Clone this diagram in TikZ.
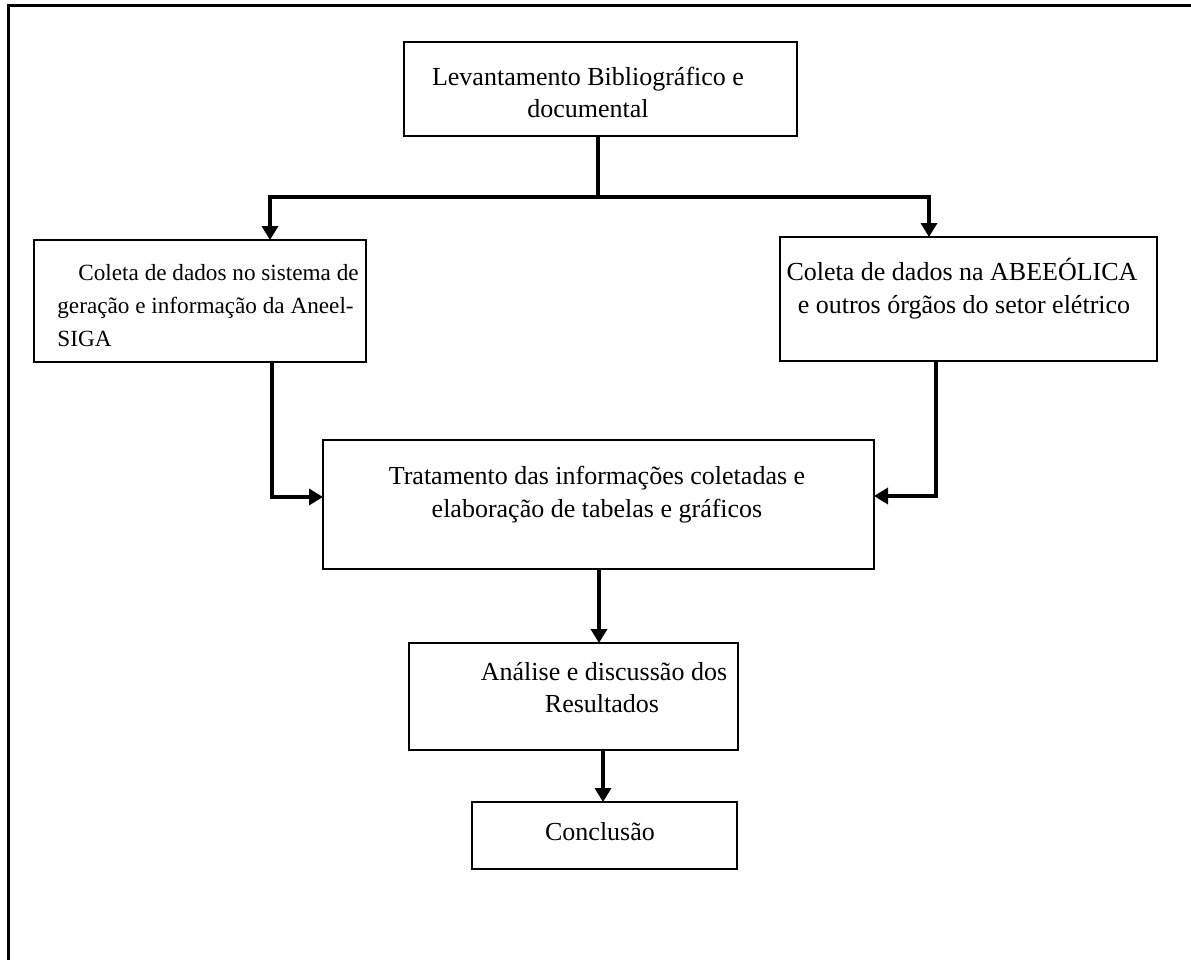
\documentclass[tikz,border=0pt]{standalone}
\usepackage{fontspec}
\setmainfont{Liberation Serif}
\usetikzlibrary{arrows.meta}
\begin{document}
\begin{tikzpicture}[x=0.5pt,y=-0.5pt,
  box/.style={draw=black,line width=1pt,inner sep=0pt,outer sep=0pt,anchor=north west},
  txt/.style={inner sep=0pt,font=\fontsize{13}{16.5}\selectfont},
  stxt/.style={inner sep=0pt,font=\fontsize{11.6}{16.5}\selectfont},
  conn/.style={line width=1.75pt},
  arr/.style={line width=1.75pt,-{Triangle[length=7pt,width=8pt]}},
  frame/.style={line width=1.5pt}]
\useasboundingbox (0,0) rectangle (1191,960);
% outer frame (top and left only)
\coordinate (ftl) at (8,5);
\coordinate (ftr) at (1192,5);
\coordinate (fbl) at (8,961);
\draw[frame] (ftr) -- (ftl) -- (fbl);
% boxes
\node[box,minimum width=393pt*0.5,minimum height=94pt*0.5] (b1) at (404,42) {};
\node[box,minimum width=332pt*0.5,minimum height=122pt*0.5] (b2) at (34,240) {};
\node[box,minimum width=377pt*0.5,minimum height=124pt*0.5] (b3) at (780,237) {};
\node[box,minimum width=551pt*0.5,minimum height=129pt*0.5] (b4) at (323,440) {};
\node[box,minimum width=329pt*0.5,minimum height=107pt*0.5] (b5) at (409,643) {};
\node[box,minimum width=265pt*0.5,minimum height=67pt*0.5] (b6) at (472,802) {};
% texts
\node[txt,anchor=base] (t1a) at (588,85) {Levantamento Bibliográfico e};
\node[txt,anchor=base] (t1b) at (588,117) {documental};
\node[stxt,anchor=base west] (t2a) at (78,280) {Coleta de dados no sistema de};
\node[stxt,anchor=base west] (t2b) at (57,313) {geração e informação da Aneel-};
\node[stxt,anchor=base west] (t2c) at (57,346) {SIGA};
\node[txt,anchor=base] (t3a) at (962,280) {Coleta de dados na ABEEÓLICA};
\node[txt,anchor=base] (t3b) at (964,313) {e outros órgãos do setor elétrico};
\node[txt,anchor=base] (t4a) at (597,484) {Tratamento das informações coletadas e};
\node[txt,anchor=base] (t4b) at (597,517) {elaboração de tabelas e gráficos};
\node[txt,anchor=base] (t5a) at (604,680) {Análise e discussão dos};
\node[txt,anchor=base] (t5b) at (602,712) {Resultados};
\node[txt,anchor=base] (t6) at (600,840) {Conclusão};
% connectors
\coordinate (split) at (598,197);
\coordinate (sl) at (270,197);
\coordinate (sr) at (929,197);
\draw[conn] (b1.south -| split) -- (split);
\draw[arr] (split) -- (sl) -- (sl |- b2.north);
\draw[arr] (split) -- (sr) -- (sr |- b3.north);
\coordinate (l1) at (272,497);
\draw[arr] (l1 |- b2.south) -- (l1) -- (l1 -| b4.west);
\coordinate (r1) at (936,496);
\draw[arr] (r1 |- b3.south) -- (r1) -- (r1 -| b4.east);
\coordinate (m1) at (599,600);
\draw[arr] (m1 |- b4.south) -- (m1 |- b5.north);
\coordinate (m2) at (603,780);
\draw[arr] (m2 |- b5.south) -- (m2 |- b6.north);
\end{tikzpicture}
\end{document}
